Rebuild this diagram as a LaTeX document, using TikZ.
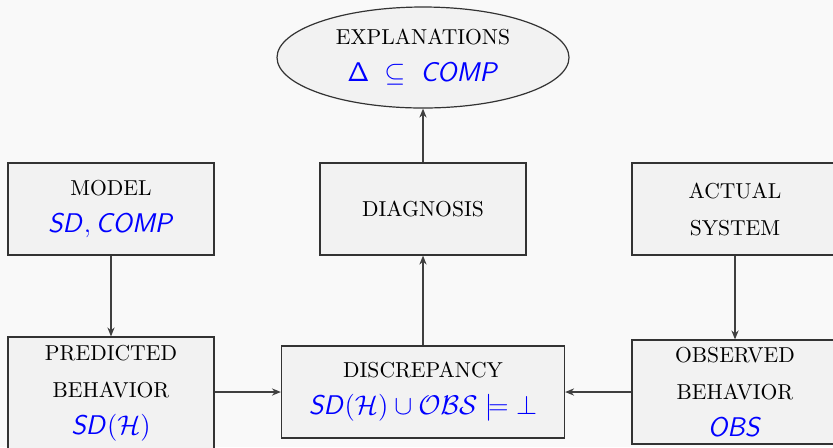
\documentclass[tikz,border=0pt]{standalone}
\usepackage{fix-cm}
\usetikzlibrary{arrows.meta,shapes.geometric}
\DeclareMathAlphabet{\mathsfsl}{OT1}{cmss}{m}{sl}
\definecolor{pagebg}{HTML}{F9F9F9}
\definecolor{boxfill}{HTML}{F2F2F2}
\definecolor{mathblue}{HTML}{0000FF}
% blue formula line set a little larger than the captions
\newcommand{\mathline}[1]{{\fontsize{13.5}{18.5}\selectfont\color{mathblue}$#1$}}
\begin{document}
\begin{tikzpicture}[x=0.5pt,y=-0.5pt,
  box/.style={draw=black!80, line width=0.6pt, fill=boxfill, inner sep=0pt,
    align=center, font=\fontsize{10.8}{18.5}\selectfont},
  flow/.style={-{Stealth[length=4.5pt,width=3.6pt]}, line width=0.6pt, draw=black!75}]
\fill[pagebg] (0,0) rectangle (833,447);
\useasboundingbox (0,0) rectangle (833,447);

\node[box, ellipse, minimum width=146pt, minimum height=50.5pt] (expl) at (423,57.5)
  {EXPLANATIONS\\\mathline{\mathsf{\Delta}\;\subseteq\;\mathsfsl{COMP}}};

\node[box, minimum width=103pt, minimum height=46pt] (model) at (111,209)
  {MODEL\\\mathline{\mathsfsl{SD}, \mathsfsl{COMP}}};
\node[box, minimum width=103pt, minimum height=46pt] (diag) at (423,209)
  {DIAGNOSIS};
\node[box, minimum width=103pt, minimum height=46pt] (actual) at (735,209)
  {ACTUAL\\SYSTEM};

\node[box, minimum width=103pt, minimum height=56pt] (pred) at (111,393)
  {PREDICTED\\BEHAVIOR\\\mathline{\mathsfsl{SD}(\mathcal{H})}};
\node[box, minimum width=141.5pt, minimum height=46pt] (disc) at (423,392)
  {DISCREPANCY\\\mathline{\mathsfsl{SD}(\mathcal{H})\cup\mathcal{OBS}\models\bot}};
\node[box, minimum width=103pt, minimum height=52pt] (obs) at (735,392)
  {OBSERVED\\BEHAVIOR\\\mathline{\mathsfsl{OBS}}};

\draw[flow] (diag.north) -- (expl.south);
\draw[flow] (disc.north) -- (diag.south);
\draw[flow] (model.south) -- (pred.north);
\draw[flow] (actual.south) -- (obs.north);
\draw[flow] (pred.east |- disc.west) -- (disc.west);
\draw[flow] (obs.west |- disc.east) -- (disc.east);
\end{tikzpicture}
\end{document}
